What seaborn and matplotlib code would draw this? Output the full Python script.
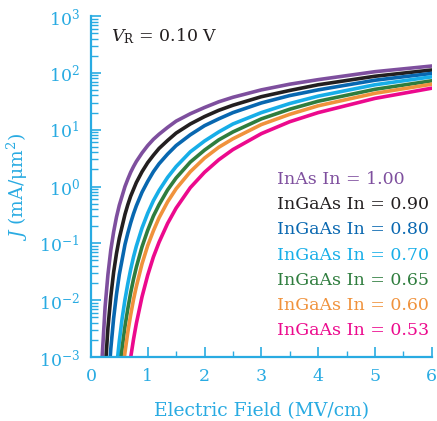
import numpy as np
import pandas as pd
import matplotlib
matplotlib.use("Agg")
import matplotlib.pyplot as plt
import seaborn as sns

# ---- data (E in MV/cm, log10 of J in mA/um^2) ----
labels = ["InAs In = 1.00", "InGaAs In = 0.90", "InGaAs In = 0.80",
          "InGaAs In = 0.70", "InGaAs In = 0.65", "InGaAs In = 0.60",
          "InGaAs In = 0.53"]

E_100 = [0.15, 0.2, 0.25, 0.3, 0.35, 0.4, 0.45, 0.5, 0.6, 0.65, 0.7, 0.75, 0.8, 0.9, 1.0, 1.1, 1.2, 1.35, 1.5, 1.75, 2, 2.25, 2.5, 3, 3.5, 4, 5, 6]
L_100 = [-4.34, -2.97, -2.12, -1.55, -1.12, -0.80, -0.54, -0.33, 0.00, 0.13, 0.25, 0.35, 0.44, 0.59, 0.72, 0.83, 0.92, 1.04, 1.15, 1.28, 1.39, 1.49, 1.57, 1.70, 1.80, 1.88, 2.02, 2.12]

E_090 = [0.2, 0.25, 0.3, 0.35, 0.4, 0.45, 0.5, 0.6, 0.65, 0.7, 0.75, 0.8, 0.9, 1.0, 1.1, 1.2, 1.35, 1.5, 1.75, 2, 2.25, 2.5, 3, 3.5, 4, 5, 6]
L_090 = [-4.37, -3.25, -2.49, -1.94, -1.51, -1.18, -0.91, -0.49, -0.32, -0.17, -0.05, 0.07, 0.26, 0.42, 0.55, 0.67, 0.81, 0.94, 1.10, 1.23, 1.34, 1.43, 1.58, 1.69, 1.79, 1.94, 2.05]

E_080 = [0.3, 0.35, 0.4, 0.45, 0.5, 0.6, 0.65, 0.7, 0.75, 0.8, 0.9, 1.0, 1.1, 1.2, 1.35, 1.5, 1.75, 2, 2.25, 2.5, 3, 3.5, 4, 5, 6]
L_080 = [-3.56, -2.86, -2.32, -1.90, -1.55, -1.02, -0.82, -0.64, -0.48, -0.34, -0.10, 0.09, 0.26, 0.40, 0.57, 0.72, 0.91, 1.07, 1.19, 1.30, 1.47, 1.60, 1.70, 1.87, 1.99]

E_070 = [0.4, 0.45, 0.5, 0.55, 0.6, 0.65, 0.7, 0.75, 0.8, 0.9, 1.0, 1.1, 1.2, 1.35, 1.5, 1.75, 2, 2.25, 2.5, 3, 3.5, 4, 5, 6]
L_070 = [-3.79, -3.20, -2.72, -2.32, -1.99, -1.71, -1.46, -1.24, -1.05, -0.73, -0.47, -0.25, -0.07, 0.16, 0.35, 0.61, 0.80, 0.96, 1.10, 1.30, 1.46, 1.59, 1.79, 1.93]

E_065 = [0.45, 0.5, 0.55, 0.6, 0.65, 0.7, 0.75, 0.8, 0.9, 1.0, 1.1, 1.2, 1.35, 1.5, 1.75, 2, 2.25, 2.5, 3, 3.5, 4, 5, 6]
L_065 = [-3.82, -3.28, -2.84, -2.46, -2.15, -1.87, -1.63, -1.42, -1.06, -0.77, -0.52, -0.32, -0.06, 0.15, 0.43, 0.64, 0.82, 0.96, 1.19, 1.36, 1.50, 1.71, 1.86]

E_060 = [0.5, 0.55, 0.6, 0.65, 0.7, 0.75, 0.8, 0.9, 1.0, 1.1, 1.2, 1.35, 1.5, 1.75, 2, 2.25, 2.5, 3, 3.5, 4, 5, 6]
L_060 = [-3.82, -3.33, -2.92, -2.56, -2.26, -1.99, -1.76, -1.36, -1.04, -0.78, -0.55, -0.27, -0.04, 0.26, 0.50, 0.69, 0.84, 1.09, 1.27, 1.42, 1.64, 1.80]

E_053 = [0.6, 0.65, 0.7, 0.75, 0.8, 0.9, 1.0, 1.1, 1.2, 1.35, 1.5, 1.75, 2, 2.25, 2.5, 3, 3.5, 4, 5, 6]
L_053 = [-3.79, -3.37, -3.01, -2.69, -2.41, -1.94, -1.56, -1.24, -0.98, -0.65, -0.38, -0.02, 0.25, 0.47, 0.65, 0.93, 1.14, 1.30, 1.55, 1.73]

x_ticks = [0, 1, 2, 3, 4, 5, 6]
y_ticks = [1e-3, 1e-2, 1e-1, 1e0, 1e1, 1e2, 1e3]

colors = ["#7E4F9E", "#231F20", "#0867B0", "#17AEE8", "#2F7D3E", "#F0923C", "#EC098D"]
axis_color = "#29ABE2"

series = [(E_100, L_100), (E_090, L_090), (E_080, L_080), (E_070, L_070),
          (E_065, L_065), (E_060, L_060), (E_053, L_053)]
frames = []
for lab, (e, l) in zip(labels, series):
    frames.append(pd.DataFrame({"E": e, "J": 10.0 ** np.asarray(l), "material": lab}))
df = pd.concat(frames, ignore_index=True)

# ---- styling ----
sns.set_style("ticks")
plt.rcParams["font.family"] = ["DejaVu Serif"]
plt.rcParams["mathtext.fontset"] = "dejavuserif"

fig = plt.figure(figsize=(4.37, 4.21), dpi=100)
ax = fig.add_axes([0.208, 0.152, 0.780, 0.810])

sns.lineplot(data=df, x="E", y="J", hue="material", hue_order=labels,
             palette=colors, sort=False, estimator=None, linewidth=2.6, ax=ax)

ax.set_yscale("log")
ax.set_xlim(0, 6)
ax.set_ylim(1e-3, 1e3)
ax.set_xticks(x_ticks)
ax.set_xticks(np.arange(0.5, 6, 1.0), minor=True)
ax.set_yticks(y_ticks)

for side in ["top", "right"]:
    ax.spines[side].set_visible(False)
for side in ["left", "bottom"]:
    ax.spines[side].set_color(axis_color)
    ax.spines[side].set_linewidth(1.6)

ax.tick_params(axis="both", which="major", direction="in", length=7, width=1.2,
               colors=axis_color, labelsize=12.5, pad=8)
ax.tick_params(axis="both", which="minor", direction="in", length=4, width=1.0,
               colors=axis_color)
ax.tick_params(axis="y", which="minor", length=5)

ax.set_xlabel("Electric Field (MV/cm)", color=axis_color, fontsize=13.5, labelpad=12)
ax.set_ylabel(r"$J$ (mA/μm$^2$)", color=axis_color, fontsize=13.5, labelpad=6)

ax.text(0.06, 0.97, r"$V_\mathrm{R}$ = 0.10 V", transform=ax.transAxes,
        fontsize=12.5, color="#231F20", va="top", ha="left")

leg = ax.legend(loc="upper left", bbox_to_anchor=(0.545, 0.545), frameon=False,
                handlelength=0, handletextpad=0, borderaxespad=0, borderpad=0,
                labelspacing=0.47, fontsize=12.5, labelcolor="linecolor")
for h in leg.legend_handles:
    h.set_visible(False)

fig.savefig("out.png", dpi=100)
